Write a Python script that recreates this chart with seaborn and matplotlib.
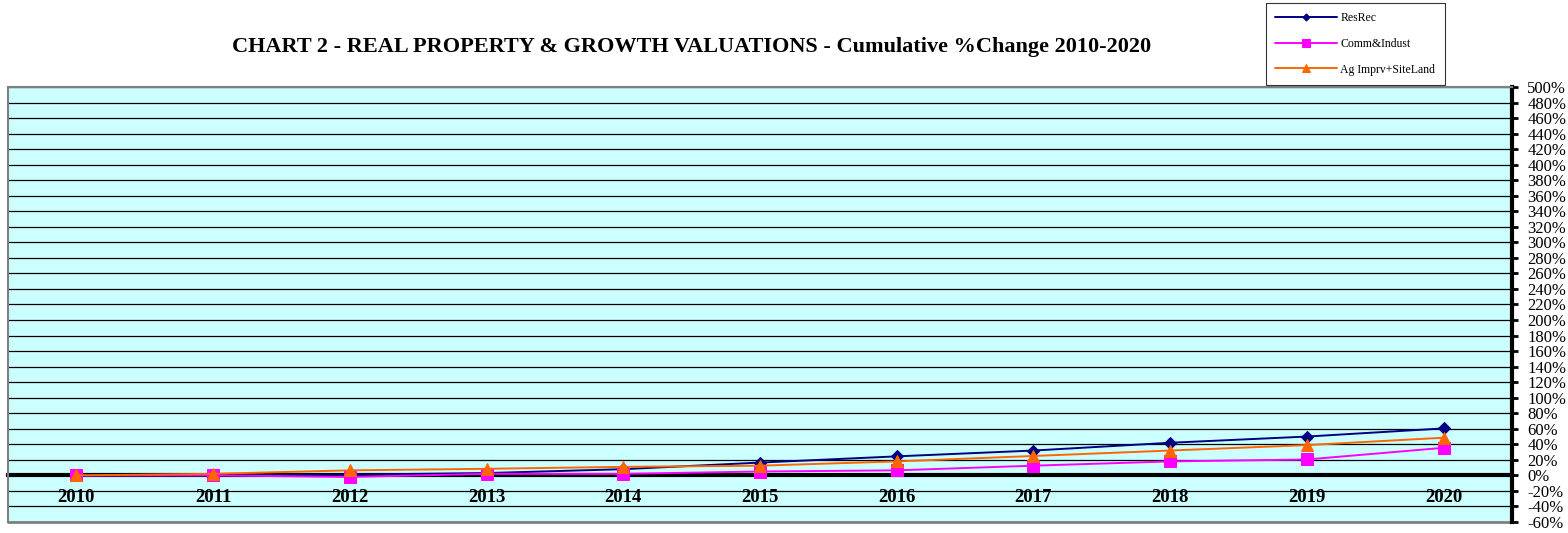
import numpy as np
import pandas as pd
import matplotlib.pyplot as plt
from matplotlib.ticker import FixedLocator, FuncFormatter
import seaborn as sns

# Chart data (cumulative % change)
years = [2010, 2011, 2012, 2013, 2014, 2015, 2016, 2017, 2018, 2019, 2020]
res_rec = [0.0, 0.0, 1.0, 3.0, 8.0, 16.5, 24.5, 32.0, 42.0, 50.0, 60.5]
comm_indust = [0.0, 0.0, -2.0, 2.0, 2.0, 5.0, 6.5, 12.5, 18.0, 20.5, 35.5]
ag_imprv = [0.0, 2.0, 6.5, 8.5, 11.0, 12.5, 18.0, 25.0, 32.0, 39.0, 48.5]
series_names = ['ResRec', 'Comm&Indust', 'Ag Imprv+SiteLand']
y_ticks = list(range(-60, 501, 20))

df = pd.DataFrame({'year': years * 3,
                   'pct': res_rec + comm_indust + ag_imprv,
                   'series': np.repeat(series_names, len(years))})

sns.set_style('white')
plt.rcParams['font.family'] = ['Liberation Serif', 'DejaVu Serif']
plt.rcParams['text.color'] = 'black'
plt.rcParams['xtick.color'] = 'black'
plt.rcParams['ytick.color'] = 'black'

fig = plt.figure(figsize=(15.68, 5.33), dpi=100)
ax = fig.add_axes([8 / 1568, 1 - 522 / 533, 1504 / 1568, 435 / 533])
ax.set_facecolor('#CCFFFF')

# horizontal gridlines
for v in y_ticks:
    ax.axhline(v, color='black', lw=0.9, zorder=1)

colors = {'ResRec': '#000080', 'Comm&Indust': '#FF00FF', 'Ag Imprv+SiteLand': '#FF6600'}
markers = {'ResRec': 'D', 'Comm&Indust': 's', 'Ag Imprv+SiteLand': '^'}
sizes = {'ResRec': 6, 'Comm&Indust': 9, 'Ag Imprv+SiteLand': 9}

for name in series_names:
    sub = df[df['series'] == name]
    sns.lineplot(data=sub, x='year', y='pct', color=colors[name], marker=markers[name],
                 markersize=sizes[name], markeredgecolor=colors[name], lw=1.4,
                 label=name, ax=ax, zorder=3)

ax.set_xlim(2009.5, 2020.5)
ax.set_ylim(-60, 500)
ax.set_xlabel('')
ax.set_ylabel('')

# x axis crosses at 0%
ax.spines['bottom'].set_position(('data', 0))
ax.spines['bottom'].set_linewidth(3)
ax.spines['bottom'].set_color('black')
ax.spines['bottom'].set_zorder(2)
ax.xaxis.set_major_locator(FixedLocator(years))
ax.xaxis.set_minor_locator(FixedLocator(np.arange(2009.5, 2021, 1)))
ax.set_xticklabels([str(y) for y in years], fontsize=13.5, fontweight='bold')
ax.tick_params(axis='x', which='major', length=0, pad=10)
ax.tick_params(axis='x', which='minor', direction='out', length=4, width=3, color='black')

# value axis on the right
ax.yaxis.tick_right()
ax.yaxis.set_major_locator(FixedLocator(y_ticks))
ax.yaxis.set_major_formatter(FuncFormatter(lambda v, p: f'{int(v)}%'))
ax.tick_params(axis='y', which='major', direction='out', length=4, width=2,
               color='black', labelsize=12, pad=7, right=True, left=False)
ax.spines['right'].set_linewidth(3)
ax.spines['right'].set_color('black')

# outer plot border (gray)
for s in ['left', 'top']:
    ax.spines[s].set_color('#808080')
    ax.spines[s].set_linewidth(1.5)
ax.plot([0, 1], [0, 0], transform=ax.transAxes, color='#808080', lw=2, clip_on=False)

ax.get_legend().remove()
handles, labels = ax.get_legend_handles_labels()
leg = fig.legend(handles, labels, loc='upper left', bbox_to_anchor=(1266 / 1568, 1 - 3 / 533),
                 borderaxespad=0, fontsize=8.5, frameon=True, fancybox=False,
                 edgecolor='black', handlelength=5.2, handletextpad=0.3,
                 labelspacing=1.15, borderpad=0.8, markerscale=0.6)
leg.get_frame().set_linewidth(0.8)

fig.text(692 / 1568, 1 - 47 / 533,
         'CHART 2 - REAL PROPERTY & GROWTH VALUATIONS - Cumulative %Change 2010-2020',
         ha='center', va='center', fontsize=16, fontweight='bold')

fig.savefig('out.png', dpi=100, facecolor='white')
